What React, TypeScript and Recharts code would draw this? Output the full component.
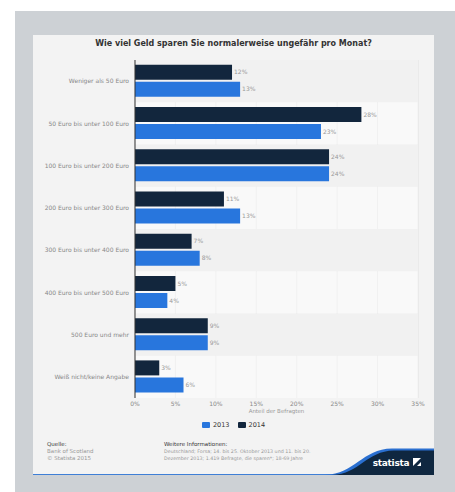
import React from "react"
import {
  BarChart,
  Bar,
  XAxis,
  YAxis,
  CartesianGrid,
  ReferenceArea,
  LabelList,
} from "recharts"

const categories = [
  "Weniger als 50 Euro",
  "50 Euro bis unter 100 Euro",
  "100 Euro bis unter 200 Euro",
  "200 Euro bis unter 300 Euro",
  "300 Euro bis unter 400 Euro",
  "400 Euro bis unter 500 Euro",
  "500 Euro und mehr",
  "Weiß nicht/keine Angabe",
]
const values2013 = [13, 23, 24, 13, 8, 4, 9, 6]
const values2014 = [12, 28, 24, 11, 7, 5, 9, 3]
const xTicks = [0, 5, 10, 15, 20, 25, 30, 35]

const series = [
  { key: "y2013", name: "2013", color: "#2876dd" },
  { key: "y2014", name: "2014", color: "#12263d" },
]

const data = categories.map((name, i) => ({
  name,
  y2013: values2013[i],
  y2014: values2014[i],
}))

const FONT = "'DejaVu Sans', Verdana, sans-serif"

// plain text tick so long labels stay on one line
function CategoryTick(props: any) {
  const { x, y, payload } = props
  return (
    <text x={x} y={y} dy="0.355em" textAnchor="end" fontSize={6} fill="#888" fontFamily={FONT}>
      {payload.value}
    </text>
  )
}

export default function App() {
  return (
    <div
      style={{
        position: "absolute",
        left: 0,
        top: 0,
        width: 455,
        height: 492,
        background: "#ffffff",
        fontFamily: FONT,
        overflow: "hidden",
      }}
    >
      <div style={{ position: "absolute", left: 15, top: 11, width: 440, height: 481, background: "#cdd1d5" }} />
      <div style={{ position: "absolute", left: 33, top: 35, width: 401, height: 440, background: "#f3f3f3" }} />

      <div
        style={{
          position: "absolute",
          left: 33,
          width: 401,
          top: 39,
          textAlign: "center",
          fontSize: 8,
          fontWeight: "bold",
          color: "#333",
        }}
      >
        Wie viel Geld sparen Sie normalerweise ungefähr pro Monat?
      </div>

      <div style={{ position: "absolute", left: 0, top: 0 }}>
        <BarChart
          width={455}
          height={420}
          layout="vertical"
          data={data}
          margin={{ top: 60, right: 37, bottom: 2, left: 0 }}
          barCategoryGap="11%"
          barGap={2}
        >
          {categories.map((c, i) => (
            <ReferenceArea
              key={c}
              y1={c}
              y2={c}
              fill={i % 2 === 1 ? "#ffffff" : "#f1f1f1"}
              fillOpacity={i % 2 === 1 ? 0.5 : 1}
              stroke="none"
              ifOverflow="visible"
            />
          ))}
          <CartesianGrid horizontal={false} stroke="#e2e2e2" />
          <XAxis
            type="number"
            domain={[0, 35]}
            ticks={xTicks}
            height={20}
            axisLine={false}
            tickLine={false}
            tickSize={0}
            tickMargin={4}
            tickFormatter={(v: number) => `${v}%`}
            tick={{ fontSize: 6, fill: "#888", fontFamily: FONT }}
          />
          <YAxis
            type="category"
            dataKey="name"
            width={135}
            tickLine={false}
            tickSize={0}
            tickMargin={6}
            axisLine={{ stroke: "#333", strokeWidth: 1 }}
            tick={<CategoryTick />}
            interval={0}
          />
          {[...series].reverse().map((s) => (
            <Bar key={s.key} dataKey={s.key} name={s.name} fill={s.color} isAnimationActive={false}>
              <LabelList
                dataKey={s.key}
                position="right"
                offset={2}
                formatter={(v: any) => `${v}%`}
                style={{ fontSize: 6, fill: "#999", fontFamily: FONT }}
              />
            </Bar>
          ))}
        </BarChart>
      </div>

      <div
        style={{
          position: "absolute",
          left: 135,
          width: 283,
          top: 408,
          textAlign: "center",
          fontSize: 5.5,
          color: "#999",
        }}
      >
        Anteil der Befragten
      </div>

      <div
        style={{
          position: "absolute",
          left: 33,
          width: 401,
          top: 421,
          display: "flex",
          justifyContent: "center",
          gap: 8,
          fontSize: 6.5,
          color: "#333",
        }}
      >
        {series.map((s) => (
          <div key={s.key} style={{ display: "flex", alignItems: "center", gap: 3 }}>
            <span style={{ display: "inline-block", width: 8, height: 6, background: s.color, borderRadius: 1 }} />
            <span>{s.name}</span>
          </div>
        ))}
      </div>

      <div style={{ position: "absolute", left: 47, top: 441, fontSize: 5.5, lineHeight: "7px" }}>
        <div style={{ color: "#333" }}>Quelle:</div>
        <div style={{ color: "#999" }}>Bank of Scotland</div>
        <div style={{ color: "#999" }}>© Statista 2015</div>
      </div>
      <div style={{ position: "absolute", left: 164, top: 441, fontSize: 5.5, lineHeight: "7px" }}>
        <div style={{ color: "#333" }}>Weitere Informationen:</div>
        <div style={{ color: "#999", fontSize: 4.8 }}>Deutschland; Forsa; 14. bis 25. Oktober 2013 und 11. bis 20.</div>
        <div style={{ color: "#999", fontSize: 4.8 }}>Dezember 2013; 1.419 Befragte, die sparen*; 18-69 Jahre</div>
      </div>

      <svg width={455} height={492} style={{ position: "absolute", left: 0, top: 0 }}>
        <line x1={33} y1={474.5} x2={434} y2={474.5} stroke="#3f7fd6" strokeWidth={1.2} />
        <path
          d="M 325 475 C 355 474, 362 449, 392 448.5 L 434 448.5 L 434 475 Z"
          fill="#2a6fd0"
        />
        <path
          d="M 332 475 C 360 474, 366 451, 394 450.5 L 434 450.5 L 434 475 Z"
          fill="#0f2740"
        />
        <text
          x={391}
          y={466}
          textAnchor="middle"
          fill="#ffffff"
          fontSize={9}
          fontWeight="bold"
          fontFamily={FONT}
          letterSpacing={-0.3}
        >
          statista
        </text>
        <rect x={413} y={458} width={8} height={8} fill="#ffffff" />
        <path d="M 413 466 L 421 458 L 421 462 L 417 466 Z" fill="#0f2740" />
      </svg>
    </div>
  )
}
